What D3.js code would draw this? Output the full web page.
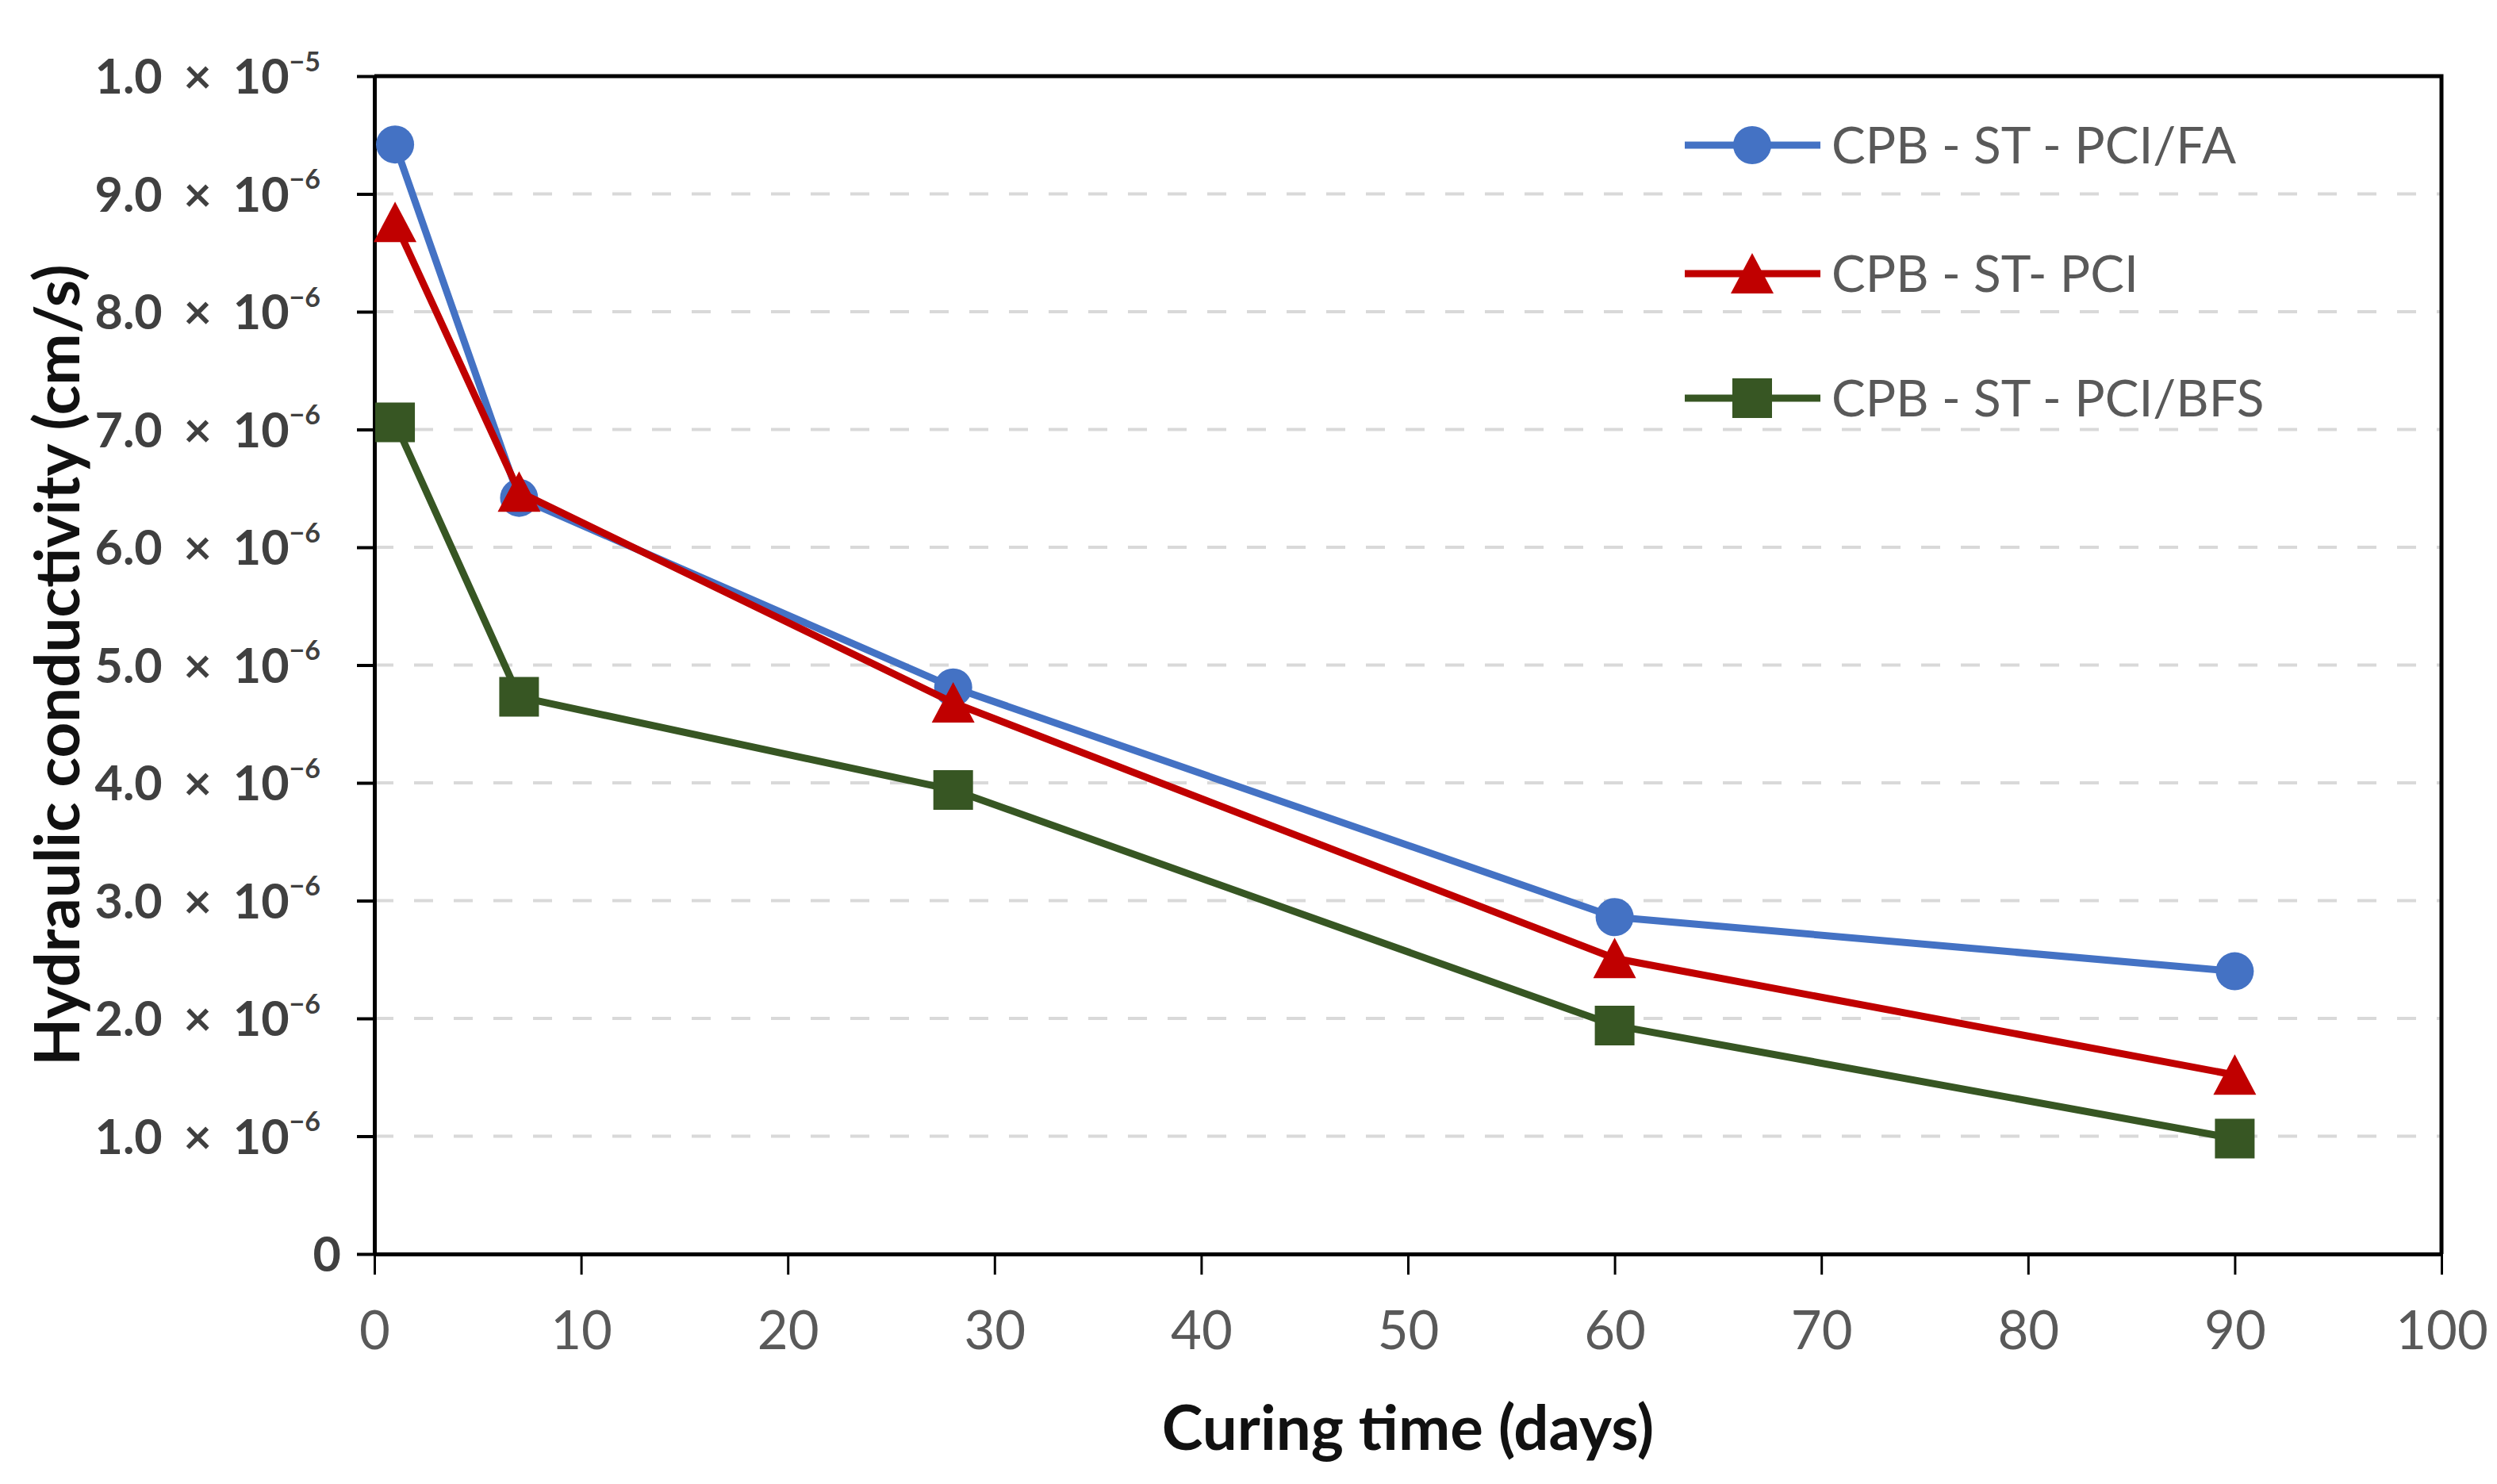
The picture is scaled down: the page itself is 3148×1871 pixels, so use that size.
<!DOCTYPE html>
<html>
<head>
<meta charset="utf-8">
<title>Hydraulic conductivity vs curing time</title>
<script src="https://cdn.jsdelivr.net/npm/d3@7"></script>
<style>
    body { margin: 0; background: #fff; }
    svg { display: block; }
</style>
</head>
<body>
<div id="chart"></div>
<script>
// curing times (days)
var days = [1, 7, 28, 60, 90];

// hydraulic conductivity (cm/s) per mix
var seriesNames = ["CPB - ST - PCI/FA", "CPB - ST- PCI", "CPB - ST - PCI/BFS"];
var pciFa = [9.42e-6, 6.42e-6, 4.81e-6, 2.86e-6, 2.40e-6];
var pci = [8.76e-6, 6.47e-6, 4.68e-6, 2.51e-6, 1.52e-6];
var pciBfs = [7.06e-6, 4.73e-6, 3.94e-6, 1.94e-6, 0.98e-6];

var xTicks = [0, 10, 20, 30, 40, 50, 60, 70, 80, 90, 100];
var yTicks = [0, 1e-6, 2e-6, 3e-6, 4e-6, 5e-6, 6e-6, 7e-6, 8e-6, 9e-6, 1e-5];

var W = 3148, H = 1871;
var margin = {top: 96, right: 70, bottom: 290, left: 472};
var width = W - margin.left - margin.right,
    height = H - margin.top - margin.bottom;

var svg = d3.select("#chart").append("svg")
    .attr("width", W)
    .attr("height", H);

var g = svg.append("g")
    .attr("transform", "translate(" + margin.left + "," + margin.top + ")");

var x = d3.scaleLinear().domain([0, 100]).range([0, width]);
var y = d3.scaleLinear().domain([0, 1e-5]).range([height, 0]);

// dashed gridlines
g.append("g")
    .selectAll("line")
    .data(yTicks.filter(function(d) { return d > 0 && d < 1e-5; }))
    .enter().append("line")
    .attr("x1", 0)
    .attr("x2", width)
    .attr("y1", function(d) { return y(d); })
    .attr("y2", function(d) { return y(d); })
    .attr("stroke", "#d9d9d9")
    .attr("stroke-width", 4)
    .attr("stroke-dasharray", "24,26");

// frame top & right
g.append("path")
    .attr("d", "M0,0H" + width + "V" + height)
    .attr("fill", "none")
    .attr("stroke", "#000")
    .attr("stroke-width", 5);

// x axis
var xAxis = g.append("g")
    .attr("transform", "translate(0," + height + ")")
    .call(d3.axisBottom(x).tickValues(xTicks).tickSize(26).tickSizeOuter(0).tickPadding(46));
xAxis.select(".domain").attr("stroke-width", 5);
xAxis.selectAll(".tick line").attr("stroke-width", 3);
xAxis.selectAll(".tick text")
    .attr("font-family", "Lato")
    .attr("font-size", 67)
    .attr("fill", "#595959");

// y axis with scientific labels
var yAxis = g.append("g")
    .call(d3.axisLeft(y).tickValues(yTicks).tickSize(22).tickSizeOuter(0).tickPadding(46).tickFormat(""));
yAxis.select(".domain").attr("stroke-width", 5);
yAxis.selectAll(".tick line").attr("stroke-width", 4);
yAxis.selectAll(".tick text").each(function(d) {
    var t = d3.select(this)
        .attr("font-family", "Lato")
        .attr("font-weight", "bold")
        .attr("font-size", 61)
        .attr("fill", "#404040")
        .attr("dy", "0.36em")
        .attr("word-spacing", 12);
    if (d === 0) {
        t.attr("x", -42).text("0");
        return;
    }
    var exp = Math.floor(Math.log10(d) + 1e-9);
    var mant = d / Math.pow(10, exp);
    t.append("tspan").text(mant.toFixed(1) + " \u00d7 10");
    t.append("tspan")
        .attr("font-size", 34)
        .attr("dy", "-0.85em")
        .text("\u2212" + Math.abs(exp));
});

// series
var series = [
    {name: seriesNames[0], values: pciFa, color: "#4472c4", marker: "circle"},
    {name: seriesNames[1], values: pci, color: "#c00000", marker: "triangle"},
    {name: seriesNames[2], values: pciBfs, color: "#375623", marker: "square"}
];

function markerPath(type) {
    if (type === "circle") return d3.symbol().type(d3.symbolCircle).size(Math.PI * 24 * 24)();
    if (type === "square") return "M-25,-25H25V25H-25Z";
    return "M0,-26L27,25H-27Z";
}

var line = d3.line()
    .x(function(d) { return x(d[0]); })
    .y(function(d) { return y(d[1]); });

series.forEach(function(s) {
    var pts = days.map(function(dd, i) { return [dd, s.values[i]]; });
    var sg = g.append("g");
    sg.append("path")
        .datum(pts)
        .attr("d", line)
        .attr("fill", "none")
        .attr("stroke", s.color)
        .attr("stroke-width", 9)
        .attr("stroke-linejoin", "round");
    sg.selectAll(".pt")
        .data(pts)
        .enter().append("path")
        .attr("transform", function(d) { return "translate(" + x(d[0]) + "," + y(d[1]) + ")"; })
        .attr("d", markerPath(s.marker))
        .attr("fill", s.color);
});

// legend
var legend = svg.append("g");
var legendY = [183, 345, 502];
series.forEach(function(s, i) {
    var lg = legend.append("g").attr("transform", "translate(2124," + legendY[i] + ")");
    lg.append("line")
        .attr("x1", 0).attr("x2", 171)
        .attr("stroke", s.color)
        .attr("stroke-width", 9);
    lg.append("path")
        .attr("transform", "translate(85,0)")
        .attr("d", markerPath(s.marker))
        .attr("fill", s.color);
    lg.append("text")
        .attr("x", 185)
        .attr("dy", "0.36em")
        .attr("font-family", "Lato")
        .attr("font-size", 64)
        .attr("fill", "#595959")
        .text(s.name);
});

// axis titles
svg.append("text")
    .attr("x", margin.left + width / 2)
    .attr("y", 1828)
    .attr("text-anchor", "middle")
    .attr("font-family", "Lato")
    .attr("font-weight", "bold")
    .attr("font-size", 78)
    .attr("fill", "#111")
    .text("Curing time (days)");

svg.append("text")
    .attr("transform", "translate(100," + (margin.top + height / 2) + ") rotate(-90)")
    .attr("text-anchor", "middle")
    .attr("font-family", "Lato")
    .attr("font-weight", "bold")
    .attr("font-size", 78)
    .attr("fill", "#111")
    .text("Hydraulic conductivity (cm/s)");
</script>
</body>
</html>
